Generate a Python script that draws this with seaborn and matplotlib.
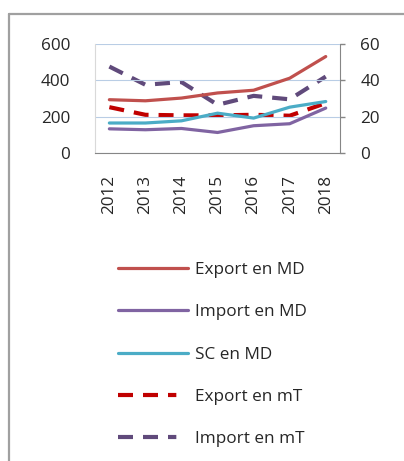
import seaborn as sns
import numpy as np
import pandas as pd
import matplotlib.pyplot as plt
from matplotlib.lines import Line2D

sns.set_style("white")
plt.rcParams['font.family'] = ['Open Sans', 'DejaVu Sans']

years = ['2012', '2013', '2014', '2015', '2016', '2017', '2018']
export_md = [293, 287, 302, 330, 345, 411, 530]
import_md = [133, 128, 135, 113, 150, 161, 247]
sc_md = [165, 165, 177, 219, 192, 252, 283]
export_mt = [25.2, 21.0, 20.7, 20.7, 21.0, 20.5, 27.4]
import_mt = [47.5, 37.5, 39.0, 26.5, 31.4, 29.5, 42.0]

df = pd.DataFrame({'year': years, 'export_md': export_md, 'import_md': import_md,
                   'sc_md': sc_md, 'export_mt': export_mt, 'import_mt': import_mt})
df['x'] = np.arange(len(years))

fs = 12.3
dash = (0, (3.6, 2.4))
# legend dashes stop short like the excel ones
dash_leg = (0, (3.6, 2.4, 3.6, 2.4, 2.0, 30))

fig = plt.figure(figsize=(4.04, 4.61), dpi=100)
ax = fig.add_axes([0.235, 0.668, 0.607, 0.237])
ax2 = ax.twinx()

solid = [('export_md', '#C0504D', 'Export en MD'),
         ('import_md', '#8064A2', 'Import en MD'),
         ('sc_md', '#4BACC6', 'SC en MD')]
dashed = [('export_mt', '#C00000', 'Export en mT'),
          ('import_mt', '#604A7B', 'Import en mT')]

for col, c, lab in dashed:
	sns.lineplot(data=df, x='x', y=col, ax=ax2, color=c, lw=3, ls=dash, label=lab, legend=False)
for col, c, lab in solid:
	sns.lineplot(data=df, x='x', y=col, ax=ax, color=c, lw=2.3, label=lab, legend=False)
ax.set_zorder(ax2.get_zorder() + 1)
ax.patch.set_visible(False)

ax.set_xlim(-0.4, len(years) - 0.6)
ax.set_ylim(0, 600)
ax.set_yticks([0, 200, 400, 600])
ax2.set_ylim(0, 60)
ax2.set_yticks([0, 20, 40, 60])
ax.set_xticks(df['x'])
ax.set_xticklabels(years, rotation=90, fontsize=fs)
ax.tick_params(axis='x', length=0, pad=16)
ax.tick_params(axis='y', length=0, pad=18, labelsize=fs)
ax2.tick_params(axis='y', length=3.6, width=1, color='#868686', pad=11, labelsize=fs, direction='out')
ax.set_xlabel('')
ax.set_ylabel('')
ax2.set_ylabel('')
ax.grid(axis='y', color='#B9CDE5', lw=0.8)
ax.set_axisbelow(True)
for a in (ax, ax2):
	for s in a.spines.values():
		s.set_visible(False)
ax.spines['bottom'].set_visible(True)
ax.spines['bottom'].set_color('#868686')
ax.spines['left'].set_visible(True)
ax.spines['left'].set_color('#D9D9D9')
ax.spines['left'].set_linewidth(0.8)
ax2.spines['right'].set_visible(True)
ax2.spines['right'].set_color('#868686')

handles = [Line2D([], [], color=c, lw=2.3) for _, c, _ in solid] + \
          [Line2D([], [], color=c, lw=3, ls=dash_leg) for _, c, _ in dashed]
labels = [l for _, _, l in solid] + [l for _, _, l in dashed]
fig.legend(handles, labels, loc='upper left', bbox_to_anchor=(0.255, 0.466), frameon=False,
           fontsize=fs, handlelength=4.1, handletextpad=0.4, labelspacing=1.55)

# outer frame (top and left only)
fig.add_artist(Line2D([0.022, 1.0], [0.969, 0.969], color='#A0A0A0', lw=1.6, transform=fig.transFigure))
fig.add_artist(Line2D([0.022, 0.022], [0.0, 0.969], color='#A0A0A0', lw=1.6, transform=fig.transFigure))

fig.savefig('out.png', dpi=100)
